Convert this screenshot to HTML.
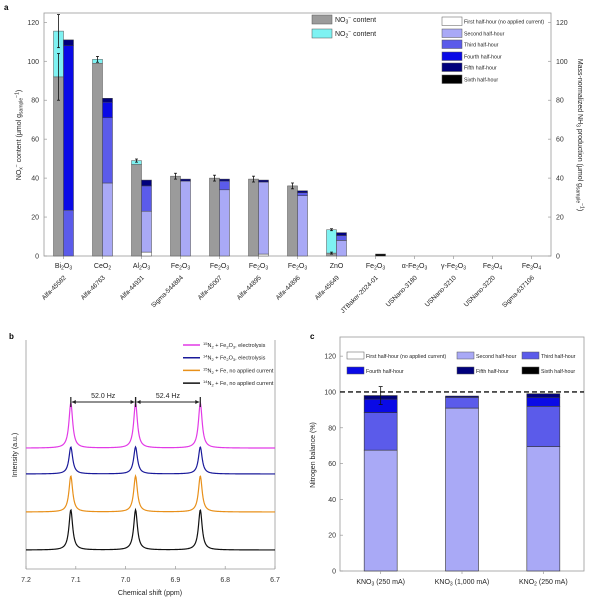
<!DOCTYPE html>
<html><head><meta charset="utf-8"><style>
body{margin:0;background:#fff}
svg{display:block;font-family:"Liberation Sans",Arial,sans-serif}
</style></head><body>
<svg id="fig" width="600" height="602" viewBox="0 0 600 602" xmlns="http://www.w3.org/2000/svg">
<text x="4" y="10" font-size="8" font-weight="bold">a</text>
<text x="9" y="339" font-size="8" font-weight="bold">b</text>
<text x="310" y="339" font-size="8" font-weight="bold">c</text>
<g id="pa"></g>
<g id="pb"></g>
<g id="pc"></g>
</svg>
<script>
// ---------- Panel a data ----------
const aFormulas=[["Bi","2","O","3"],["CeO","2"],["Al","2","O","3"],["Fe","2","O","3"],["Fe","2","O","3"],["Fe","2","O","3"],["Fe","2","O","3"],["ZnO"],["Fe","2","O","3"],["α-Fe","2","O","3"],["γ-Fe","2","O","3"],["Fe","3","O","4"],["Fe","3","O","4"]];
const aCodes=["Alfa-45582","Alfa-46763","Alfa-44931","Sigma-544884","Alfa-45007","Alfa-44895","Alfa-44896","Alfa-45649","JTBaker-2024-01","USNano-3180","USNano-3210","USNano-3220","Sigma-637106"];
const aNO3=[92,99,47,41,40,39.5,36,1.5,0,0,0,0,0];
const aNO2=[23.5,2,2,0,0,0,0,12,0,0,0,0,0];
const aNO3err=[12,0,0,1.5,1.5,1.5,1.5,0.5,0,0,0,0,0];
const aTotErr=[8.5,1.5,0.8,0,0,0,0,0.5,0,0,0,0,0];
const aFirst=[0,0,2,0,0,1,0,0,0,0,0,0,0];
const aSecond=[0,37.5,21,38.5,34,37,31,8,0,0,0,0,0];
const aThird=[23.5,33.5,13,0,4.5,0,1.5,2.5,0,0,0,0,0];
const aFourth=[84.5,8,0,0,0,0,0,0,0,0,0,0,0];
const aFifth=[3,2,3,1,1,1,1,1.5,0,0,0,0,0];
const aSixth=[0,0,0,0,0,0,0,0,1,0,0,0,0];
const aTicks=[0,20,40,60,80,100,120];
// ---------- Panel b data ----------
const bPeaks=[7.11,6.98,6.85];
const bSeries=["magenta","blue","orange","black"];
const bBase=[52.8,41.5,24.9,8.3];
const bHeight=[19.7,11.8,15.7,17.5];
const bXTicks=[7.2,7.1,7.0,6.9,6.8,6.7];
// ---------- Panel c data ----------
const cCats=["KNO3 (250 mA)","KNO3 (1,000 mA)","KNO2 (250 mA)"];
const cFirst=[0,0,0];
const cSecond=[67.5,91,69.5];
const cThird=[21,6,22.5];
const cFourth=[7.5,0,5];
const cFifth=[2,0.7,2];
const cSixth=[0,0,0];
const cErr=[5,0,0];
const cTicks=[0,20,40,60,80,100,120];

const NS="http://www.w3.org/2000/svg";
function mk(p,t,at){const e=document.createElementNS(NS,t);for(const k in at)e.setAttribute(k,at[k]);p.appendChild(e);return e;}
const stackCols=["#ffffff","#a9a9f6","#5b5bea","#0a0ae6","#00007c","#000000"];
const stackNames=["First half-hour (no applied current)","Second half-hour","Third half-hour","Fourth half-hour","Fifth half-hour","Sixth half-hour"];

// ======== Panel a ========
(function(){
const g=document.getElementById('pa');
const L=44,R=551,T=13,B=256,yMax=124.8;
const ya=v=>B-v/yMax*(B-T);
const bw=(R-L)/aCodes.length;
const xc=i=>L+bw*(i+0.5);
let f=mk(g,'rect',{x:L,y:T,width:R-L,height:B-T,fill:'none',stroke:'#999','stroke-width':0.8});

aTicks.forEach(v=>{
 mk(g,'line',{x1:L,x2:L+3,y1:ya(v),y2:ya(v),stroke:'#999','stroke-width':0.7});
 mk(g,'line',{x1:R,x2:R-3,y1:ya(v),y2:ya(v),stroke:'#999','stroke-width':0.7});
 let t=mk(g,'text',{x:L-5,y:ya(v)+2.5,'font-size':7,'text-anchor':'end',fill:'#333'});t.textContent=v;
 
 let t2=mk(g,'text',{x:R+5,y:ya(v)+2.5,'font-size':7,fill:'#333'});t2.textContent=v;
 
});
const w=10;
aCodes.forEach((c,i)=>{
 const x=xc(i);
 mk(g,'line',{x1:x,x2:x,y1:B,y2:B+3,stroke:'#999','stroke-width':0.7});
 if(aNO3[i]>0){let r=mk(g,'rect',{x:x-w,y:ya(aNO3[i]),width:w,height:B-ya(aNO3[i]),fill:'#9b9b9b',stroke:'#555','stroke-width':0.5});
  }
 if(aNO2[i]>0){let top=aNO3[i]+aNO2[i];let r=mk(g,'rect',{x:x-w,y:ya(top),width:w,height:ya(aNO3[i])-ya(top),fill:'#7ef2f2',stroke:'#555','stroke-width':0.5});
  }
 const eb=(v,e)=>{if(e<=0)return;mk(g,'line',{x1:x-w/2,x2:x-w/2,y1:ya(v-e),y2:ya(v+e),stroke:'#111','stroke-width':0.8});
  [v-e,v+e].forEach(q=>mk(g,'line',{x1:x-w/2-1.5,x2:x-w/2+1.5,y1:ya(q),y2:ya(q),stroke:'#111','stroke-width':0.8}));};
 eb(aNO3[i],aNO3err[i]);eb(aNO3[i]+aNO2[i],aTotErr[i]);
 const segs=[aFirst[i],aSecond[i],aThird[i],aFourth[i],aFifth[i],aSixth[i]];
 let acc=0;
 segs.forEach((s,k)=>{if(s<=0)return;let r=mk(g,'rect',{x:x,y:ya(acc+s),width:w,height:ya(acc)-ya(acc+s),fill:stackCols[k],stroke:'#444','stroke-width':0.5});
  acc+=s;});
 const fm=aFormulas[i];let t=mk(g,'text',{x:x,y:268,'font-size':7,'text-anchor':'middle',fill:'#222'});
 
 fm.forEach((p,k)=>{let s=mk(t,'tspan',{});s.textContent=p;if(k%2==1){s.setAttribute('font-size',5);s.setAttribute('dy',1.5);}else if(k>0){s.setAttribute('dy',-1.5);}});
 let ct=mk(g,'text',{x:x+3,y:278,'font-size':6.5,'text-anchor':'end',fill:'#222',transform:`rotate(-45 ${x+3} 278)`});ct.textContent=c;
 
});
let yt=mk(g,'text',{x:0,y:0,'font-size':7,'text-anchor':'middle',fill:'#222',transform:'translate(21 135) rotate(-90)'});
yt.innerHTML='NO<tspan font-size="5" dy="1.5">x</tspan><tspan font-size="5" dy="-4">−</tspan><tspan dy="2.5"> content (μmol g</tspan><tspan font-size="5" dy="1.5">sample</tspan><tspan font-size="5" dy="-4">−1</tspan><tspan dy="2.5">)</tspan>';

let yt2=mk(g,'text',{x:0,y:0,'font-size':7,'text-anchor':'middle',fill:'#222',transform:'translate(578 135) rotate(90)'});
yt2.innerHTML='Mass-normalized NH<tspan font-size="5" dy="1.5">3</tspan><tspan dy="-1.5"> production (μmol g</tspan><tspan font-size="5" dy="1.5">sample</tspan><tspan font-size="5" dy="-4">−1</tspan><tspan dy="2.5">)</tspan>';

[['#9b9b9b','NO','3',15],['#7ef2f2','NO','2',29]].forEach(l=>{
 let r=mk(g,'rect',{x:312,y:l[3],width:20,height:9,fill:l[0],stroke:'#555','stroke-width':0.5});
 
 let t=mk(g,'text',{x:335,y:l[3]+7,'font-size':7,fill:'#222'});
 t.innerHTML=`NO<tspan font-size="5" dy="1.5">${l[2]}</tspan><tspan font-size="5" dy="-4">−</tspan><tspan dy="2.5"> content</tspan>`;
 
});
const ly=[17,29,40,52,63,75];
stackNames.forEach((n,k)=>{
 let r=mk(g,'rect',{x:442,y:ly[k],width:20,height:8.5,fill:stackCols[k],stroke:'#555','stroke-width':0.5});
 
 let t=mk(g,'text',{x:464,y:ly[k]+6.5,'font-size':5.3,fill:'#222'});t.textContent=n;
 
});
})();

// ======== Panel b ========
(function(){
const g=document.getElementById('pb');
const L=26,R=275,T=340,B=569;
const xb=v=>L+(7.2-v)/0.5*(R-L);
const yb=v=>B-v/100*(B-T);
[[L,T,L,B],[L,B,R,B],[R,T,R,B]].forEach(a=>mk(g,'line',{x1:a[0],y1:a[1],x2:a[2],y2:a[3],stroke:'#999','stroke-width':0.8}));
bXTicks.forEach(v=>{mk(g,'line',{x1:xb(v),x2:xb(v),y1:B,y2:B-3,stroke:'#999','stroke-width':0.7});
 let t=mk(g,'text',{x:xb(v),y:582,'font-size':7,'text-anchor':'middle',fill:'#333'});t.textContent=v.toFixed(1);
 });
const cols={magenta:'#e23ae6',blue:'#1a1a9a',orange:'#e8901a',black:'#111'};
bSeries.forEach((s,i)=>{
 let d='';
 for(let px=L;px<=R;px+=0.5){const v=7.2-(px-L)/(R-L)*0.5;let y=bBase[i];
  bPeaks.forEach(p=>{const dx=(v-p)/0.0045;y+=bHeight[i]/(1+dx*dx);});
  d+=(px==L?'M':'L')+px.toFixed(1)+','+yb(y).toFixed(2);}
 let p=mk(g,'path',{d:d,fill:'none',stroke:cols[s],'stroke-width':1.2});
 
});
const leg=[['#e23ae6','15','Fe','2','O','3',', electrolysis'],['#1a1a9a','14','Fe','2','O','3',', electrolysis'],['#e8901a','15','Fe','','','',', no applied current'],['#111','14','Fe','','','',', no applied current']];
leg.forEach((l,k)=>{const y=345+k*12.7;
 let ln=mk(g,'line',{x1:183,x2:200,y1:y,y2:y,stroke:l[0],'stroke-width':1.5});
 
 let t=mk(g,'text',{x:203,y:y+2,'font-size':5.5,fill:'#222'});
 t.innerHTML=`<tspan font-size="4" dy="-2">${l[1]}</tspan><tspan dy="2">N</tspan><tspan font-size="4" dy="1.5">2</tspan><tspan dy="-1.5"> + ${l[2]}</tspan>`+(l[3]?`<tspan font-size="4" dy="1.5">${l[3]}</tspan><tspan dy="-1.5">${l[4]}</tspan><tspan font-size="4" dy="1.5">${l[5]}</tspan><tspan dy="-1.5">${l[6]}</tspan>`:`<tspan>${l[6]}</tspan>`);
 
});
const ay=402;
[[bPeaks[0],bPeaks[1],'52.0 Hz'],[bPeaks[1],bPeaks[2],'52.4 Hz']].forEach(a=>{
 const x1=xb(a[0]),x2=xb(a[1]);
 mk(g,'line',{x1:x1+1,x2:x2-1,y1:ay,y2:ay,stroke:'#222','stroke-width':1});
 mk(g,'path',{d:`M${x1+1},${ay}l4,-2v4z M${x2-1},${ay}l-4,-2v4z`,fill:'#222'});
 [x1,x2].forEach(x=>mk(g,'line',{x1:x,x2:x,y1:ay-5,y2:ay+5,stroke:'#222','stroke-width':1.2}));
 let t=mk(g,'text',{x:(x1+x2)/2,y:ay-4,'font-size':7,'text-anchor':'middle',fill:'#222'});t.textContent=a[2];
 
});
let xt=mk(g,'text',{x:150,y:595,'font-size':7,'text-anchor':'middle',fill:'#222'});xt.textContent='Chemical shift (ppm)';

let yt=mk(g,'text',{x:0,y:0,'font-size':7,'text-anchor':'middle',fill:'#222',transform:'translate(17 455) rotate(-90)'});yt.textContent='Intensity (a.u.)';

})();

// ======== Panel c ========
(function(){
const g=document.getElementById('pc');
const L=340,R=584,T=337,B=571,yMax=130.7;
const yc=v=>B-v/yMax*(B-T);
let f=mk(g,'rect',{x:L,y:T,width:R-L,height:B-T,fill:'none',stroke:'#999','stroke-width':0.8});

cTicks.forEach(v=>{mk(g,'line',{x1:L,x2:L+3,y1:yc(v),y2:yc(v),stroke:'#999','stroke-width':0.7});
 let t=mk(g,'text',{x:L-4,y:yc(v)+2.5,'font-size':7,'text-anchor':'end',fill:'#333'});t.textContent=v;
 });
const bw=(R-L)/cCats.length, w=33;
cCats.forEach((c,i)=>{
 const x=L+bw*(i+0.5);
 const segs=[cFirst[i],cSecond[i],cThird[i],cFourth[i],cFifth[i],cSixth[i]];let acc=0;
 segs.forEach((s,k)=>{if(s<=0)return;let r=mk(g,'rect',{x:x-w/2,y:yc(acc+s),width:w,height:yc(acc)-yc(acc+s),fill:stackCols[k],stroke:'#333','stroke-width':0.6});
  acc+=s;});
 if(cErr[i]>0){mk(g,'line',{x1:x,x2:x,y1:yc(acc-cErr[i]),y2:yc(acc+cErr[i]),stroke:'#111','stroke-width':0.8});
  [acc-cErr[i],acc+cErr[i]].forEach(q=>mk(g,'line',{x1:x-2,x2:x+2,y1:yc(q),y2:yc(q),stroke:'#111','stroke-width':0.8}));}
 mk(g,'line',{x1:x,x2:x,y1:B,y2:B+3,stroke:'#999','stroke-width':0.7});
 const m=c.match(/^(KNO)(\d)(.*)$/);
 let t=mk(g,'text',{x:x,y:584,'font-size':7,'text-anchor':'middle',fill:'#222'});
 t.innerHTML=`${m[1]}<tspan font-size="5" dy="1.5">${m[2]}</tspan><tspan dy="-1.5">${m[3]}</tspan>`;
 
});
let dl=mk(g,'line',{x1:L,x2:R,y1:yc(100),y2:yc(100),stroke:'#111','stroke-width':1.4,'stroke-dasharray':'5,3'});

let yt=mk(g,'text',{x:0,y:0,'font-size':7,'text-anchor':'middle',fill:'#222',transform:'translate(315 455) rotate(-90)'});yt.textContent='Nitrogen balance (%)';

const pos=[[347,356],[457,356],[522,356],[347,371],[457,371],[522,371]];
stackNames.forEach((n,k)=>{
 let r=mk(g,'rect',{x:pos[k][0],y:pos[k][1]-4,width:17,height:7,fill:stackCols[k],stroke:'#555','stroke-width':0.5});
 
 let t=mk(g,'text',{x:pos[k][0]+19,y:pos[k][1]+2,'font-size':5.3,fill:'#222'});t.textContent=n;
 
});
})();
</script>
</body></html>
